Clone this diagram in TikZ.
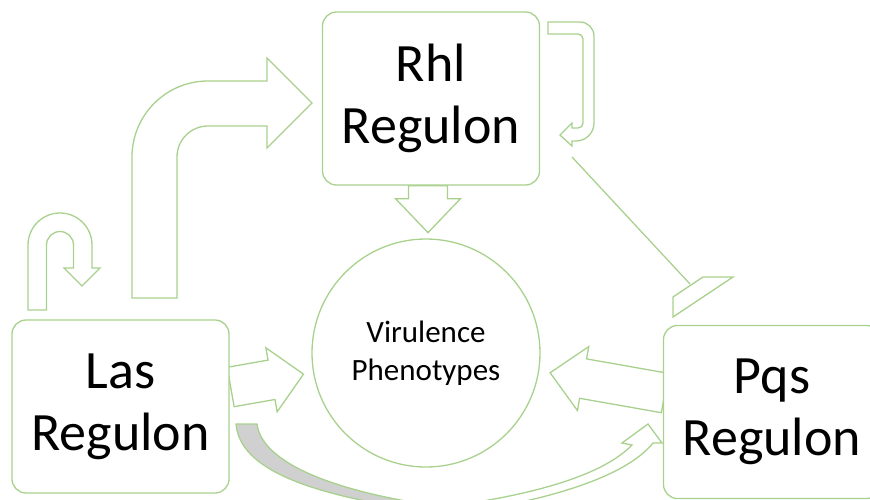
\documentclass[tikz,border=0pt]{standalone}
\usepackage{fontspec}
\setmainfont{Carlito}
\usetikzlibrary{calc,backgrounds}
\definecolor{qsgreen}{HTML}{A9D18E}
\definecolor{qsshade}{HTML}{D0D0D0}
\newcommand{\RegulonWidth}{217}
\newcommand{\RegulonHeight}{173}
% tail, angle, shaft length, half shaft, half head, head length
\newcommand{\BlockArrow}[6]{%
  \draw[blockarrow, shift={#1}, rotate=#2] (0,-#4) -- (#3,-#4) -- (#3,-#5) -- ({#3+#6},0) -- (#3,#5) -- (#3,#4) -- (0,#4) -- cycle;}

\begin{document}
\begin{tikzpicture}[x=1pt, y=-1pt,
	regulon/.style={draw=qsgreen, line width=1.3pt, fill=white, rounded corners=14pt, minimum width=\RegulonWidth pt, minimum height=\RegulonHeight pt, align=center, inner sep=0pt, font=\fontsize{54}{62}\selectfont},
	phenotype/.style={draw=qsgreen, line width=1.3pt, circle, minimum size=228pt, align=center, inner sep=0pt, font=\fontsize{31}{38}\selectfont},
	blockarrow/.style={draw=qsgreen, line width=1.3pt, fill=white, line join=miter}]
	\useasboundingbox (0,0) rectangle (870,499);
	\node[phenotype] (vir) at (426,353) {Virulence\\Phenotypes};
	\node[regulon] (rhl) at (431,98.5) {Rhl\\Regulon};
	\node[regulon] (las) at (120.5,406.5) {Las\\Regulon};
	\node[regulon] (pqs) at (772,412) {Pqs\\Regulon};
	\begin{scope}[on background layer]
		% straight block arrows into the phenotypes
		\BlockArrow{($(las.east)+(1,-19.5)$)}{10}{41.5}{20}{32.5}{32.5}
		\BlockArrow{($(pqs.west)+(2,-19)$)}{170}{83}{20}{32.5}{33.5}
		\BlockArrow{($(rhl.south)+(-3,0)$)}{-90}{13}{19.5}{32.5}{34}
		% las to rhl, bent
		\draw[blockarrow] (132,298) -- (132,157) arc[start angle=180, end angle=270, radius=76] -- (267,81) -- (267,58) -- (312,103) -- (267,148) -- (267,126) -- (208,126) arc[start angle=270, end angle=180, radius=31] -- (177,298) -- cycle;
		% las self loop
		\draw[blockarrow] (28,310) -- (28,245) arc[start angle=180, end angle=360, radius=32] -- (92,268) -- (100,268) -- (82,286) -- (64,268) -- (73.5,268) -- (73.5,245) arc[start angle=0, end angle=-180, radius=13.5] -- (46.5,310) -- cycle;
		% rhl self loop
		\draw[blockarrow] (548,22) -- (580,22) arc[start angle=270, end angle=360, radius=14] -- (594,123) arc[start angle=0, end angle=90, radius=18] -- (572,141) -- (572,146) -- (560,135) -- (572,123) -- (572,128) -- (578,128) arc[start angle=90, end angle=0, radius=5] -- (583,39) arc[start angle=0, end angle=-90, radius=5] -- (548,34) -- cycle;
		% rhl inhibits pqs
		\draw[qsgreen, line width=1.3pt] (572,157) -- (690,284);
		\draw[blockarrow] (673,297) -- (703,277) -- (733,277) -- (673,317) -- cycle;
		% las to pqs, curved underneath
		\draw[blockarrow, fill=qsshade] (236,424) -- (257,424) .. controls (262,462) and (330,490) .. (430,505) -- (430,512) .. controls (310,495) and (240,470) .. (236,424) -- cycle;
		\draw[blockarrow] (400,512) .. controls (520,500) and (600,478) .. (632,445) -- (622,443) -- (648,424) -- (662,443) -- (653,443) .. controls (625,478) and (540,505) .. (420,518) -- cycle;
	\end{scope}
\end{tikzpicture}
\end{document}
